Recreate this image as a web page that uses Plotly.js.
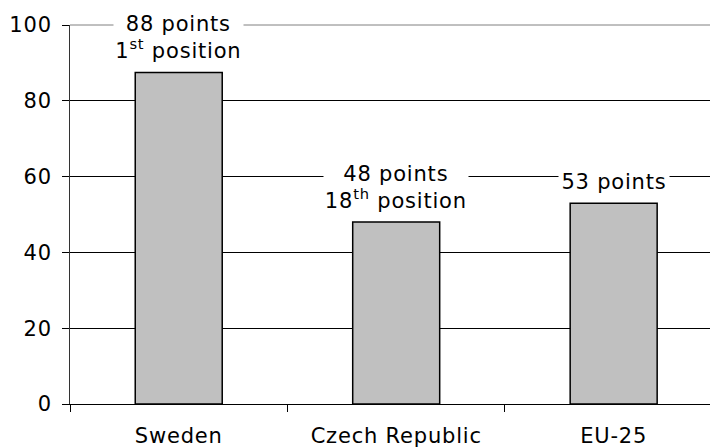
<!DOCTYPE html>
<html><head><meta charset="utf-8">
<script src="https://cdn.plot.ly/plotly-3.0.1.min.js"></script>
<style>
body{margin:0;padding:0;background:#fff}
#chart text{letter-spacing:0.8px}
</style></head>
<body><div id="chart" style="width:710px;height:447px"></div>
<script>
const categories = ["Sweden", "Czech Republic", "EU-25"];
const points = [87.5, 48, 53];
const labels = ["88 points<br>1<sup>st</sup> position", "48 points<br>18<sup>th</sup> position", "53 points"];
const yTicks = [0, 20, 40, 60, 80, 100];

const idx = categories.map((c, i) => i);
const font = {family: "DejaVu Sans, Verdana, sans-serif", size: 21, color: "#000"};

const trace = {
  type: "bar", x: idx, y: points, width: 0.4,
  marker: {color: "#C0C0C0", line: {color: "#000", width: 1.5}},
  hoverinfo: "skip"
};

const annotations = idx.map(i => ({
  x: i, y: points[i], xref: "x", yref: "y",
  text: labels[i], showarrow: false, yanchor: "bottom", yshift: 2,
  bgcolor: "#fff", borderpad: 6, font: font
}));

const layout = {
  width: 710, height: 447,
  margin: {l: 70, r: 0, t: 25, b: 43},
  paper_bgcolor: "#fff", plot_bgcolor: "#fff",
  showlegend: false,
  font: font,
  xaxis: {
    range: [-0.5, 2.443], tickvals: idx, ticktext: categories,
    ticks: "", showgrid: false, zeroline: false,
    showline: false, tickfont: font, fixedrange: true,
    ticklabelstandoff: 17
  },
  xaxis2: {
    overlaying: "x", matches: "x", side: "bottom", anchor: "y",
    range: [-0.5, 2.443], tickvals: [-0.5, 0.5, 1.5],
    ticks: "outside", ticklen: 7, tickcolor: "#000", tickwidth: 1,
    showticklabels: false, showgrid: false, zeroline: false,
    showline: true, linecolor: "#000", linewidth: 1
  },
  yaxis: {
    range: [0, 100], tickvals: yTicks, ticks: "outside", ticklen: 7,
    tickcolor: "#000", showline: true, linecolor: "#333", linewidth: 1,
    showgrid: true, gridcolor: "#000", gridwidth: 1, zeroline: false,
    tickfont: font, ticklabelstandoff: 6
  },
  shapes: [{
    type: "line", xref: "paper", yref: "paper", x0: 0, x1: 1, y0: 1, y1: 1,
    line: {color: "#808080", width: 1}, layer: "above"
  }],
  annotations: annotations
};

const dummy = {type: "scatter", x: [], y: [], xaxis: "x2", yaxis: "y", hoverinfo: "skip"};
Plotly.newPlot("chart", [trace, dummy], layout, {staticPlot: true});
</script></body></html>
